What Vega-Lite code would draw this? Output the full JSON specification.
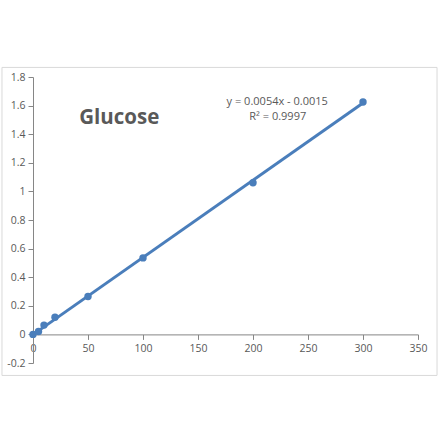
{
  "$schema": "https://vega.github.io/schema/vega-lite/v6.json",
  "autosize": {"type": "none"},
  "width": 385,
  "height": 286,
  "padding": {"left": 33, "top": 77, "right": 22, "bottom": 78},
  "background": "white",
  "config": {
    "view": {"stroke": null},
    "font": "Open Sans",
    "axis": {
      "grid": false,
      "domainColor": "#868686",
      "tickColor": "#868686",
      "domainWidth": 1,
      "tickSize": 5,
      "labelColor": "#595959",
      "labelFont": "Open Sans",
      "labelFontSize": 10.5,
      "labelOverlap": false,
      "labelFlush": false,
      "tickCount": 20,
      "title": null
    }
  },
  "datasets": {
    "points": [
      {"conc": 0, "abs": 0.0},
      {"conc": 5, "abs": 0.02},
      {"conc": 10, "abs": 0.065},
      {"conc": 20, "abs": 0.12},
      {"conc": 50, "abs": 0.265},
      {"conc": 100, "abs": 0.535},
      {"conc": 200, "abs": 1.06},
      {"conc": 300, "abs": 1.625}
    ],
    "trend": [
      {"conc": 0, "abs": -0.0015},
      {"conc": 300, "abs": 1.6185}
    ],
    "labels": [
      {"conc": 42, "abs": 1.51, "text": "Glucose", "kind": "title"},
      {"conc": 222, "abs": 1.625, "text": "y = 0.0054x - 0.0015", "kind": "eq"},
      {"conc": 222.5, "abs": 1.52, "text": "R² = 0.9997", "kind": "eq"}
    ]
  },
  "layer": [
    {
      "data": {"name": "trend"},
      "mark": {"type": "line", "color": "#4a7ebb", "strokeWidth": 3},
      "encoding": {
        "x": {
          "field": "conc", "type": "quantitative",
          "scale": {"domain": [0, 350], "nice": false, "zero": false},
          "axis": {"values": [0, 50, 100, 150, 200, 250, 300, 350], "tickCount": 20, "offset": -28.6, "labelPadding": 4}
        },
        "y": {
          "field": "abs", "type": "quantitative",
          "scale": {"domain": [-0.2, 1.8], "nice": false, "zero": false},
          "axis": {
            "values": [-0.2, 0, 0.2, 0.4, 0.6, 0.8, 1, 1.2, 1.4, 1.6, 1.8],
            "tickCount": 20,
            "labelExpr": "replace(format(datum.value, '.1~f'), '\u2212', '-')",
            "labelPadding": 3
          }
        }
      }
    },
    {
      "data": {"values": [{}]},
      "mark": {"type": "rect", "fill": null, "stroke": "#d9d9d9", "strokeWidth": 1, "clip": false},
      "encoding": {
        "x": {"datum": -28.2, "type": "quantitative", "axis": {"values": [0, 50, 100, 150, 200, 250, 300, 350], "tickCount": 20, "offset": -28.6, "labelPadding": 4}},
        "x2": {"datum": 367.3},
        "y": {"datum": 1.867, "type": "quantitative", "axis": {
            "values": [-0.2, 0, 0.2, 0.4, 0.6, 0.8, 1, 1.2, 1.4, 1.6, 1.8],
            "tickCount": 20,
            "labelExpr": "replace(format(datum.value, '.1~f'), '\u2212', '-')",
            "labelPadding": 3
          }},
        "y2": {"datum": -0.287}
      }
    },
    {
      "data": {"name": "points"},
      "mark": {"type": "point", "filled": true, "color": "#4a7ebb", "size": 55, "opacity": 1},
      "encoding": {
        "x": {"field": "conc", "type": "quantitative"},
        "y": {"field": "abs", "type": "quantitative"}
      }
    },
    {
      "data": {"name": "labels"},
      "transform": [{"filter": "datum.kind == 'title'"}],
      "mark": {"type": "text", "align": "left", "baseline": "middle", "fontSize": 20.5, "fontWeight": "bold", "color": "#595959", "font": "Open Sans"},
      "encoding": {
        "x": {"field": "conc", "type": "quantitative"},
        "y": {"field": "abs", "type": "quantitative"},
        "text": {"field": "text"}
      }
    },
    {
      "data": {"name": "labels"},
      "transform": [{"filter": "datum.kind == 'eq'"}],
      "mark": {"type": "text", "align": "center", "baseline": "middle", "fontSize": 11, "color": "#595959", "font": "Open Sans"},
      "encoding": {
        "x": {"field": "conc", "type": "quantitative"},
        "y": {"field": "abs", "type": "quantitative"},
        "text": {"field": "text"}
      }
    }
  ]
}
